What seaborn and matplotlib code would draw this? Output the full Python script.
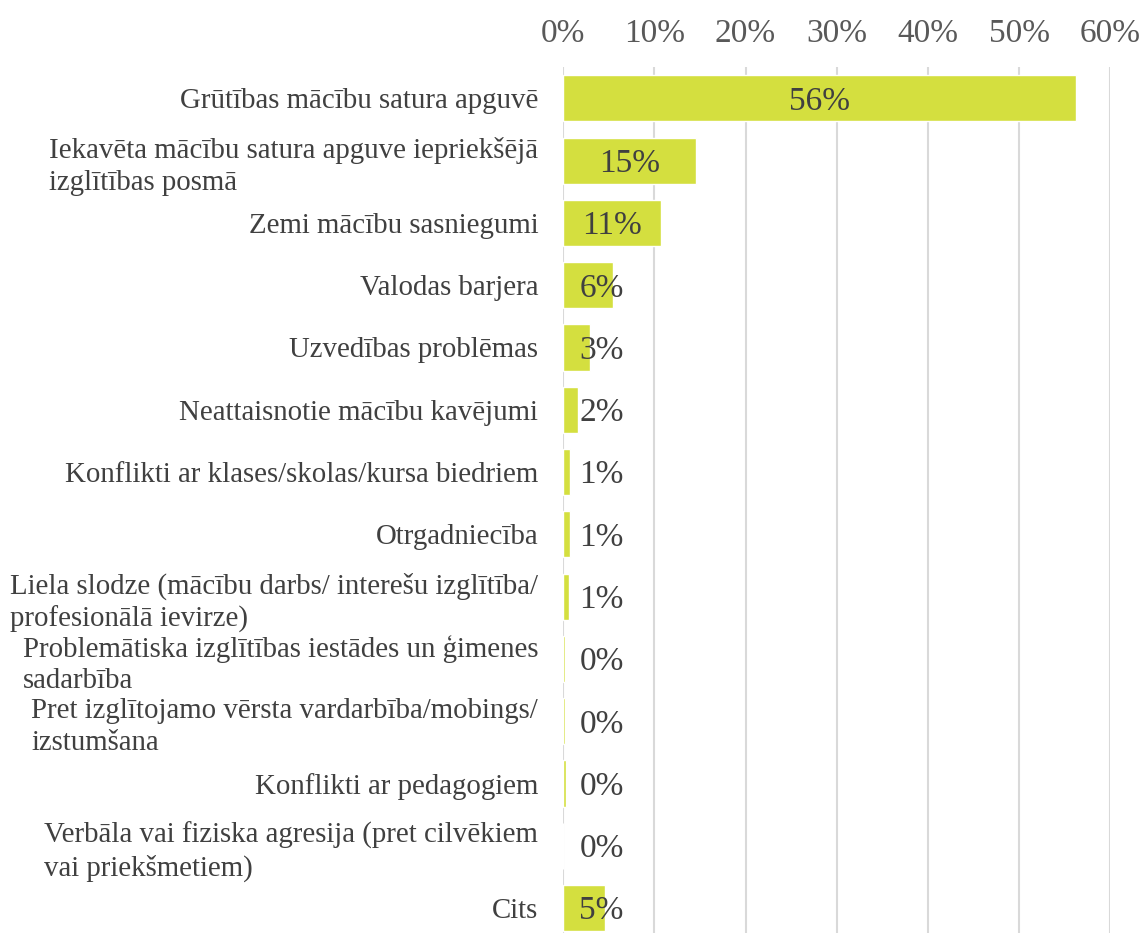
import matplotlib
matplotlib.use("Agg")
import matplotlib.pyplot as plt
import seaborn as sns
import pandas as pd

categories = [
    "Grūtības mācību satura apguvē",
    "Iekavēta mācību satura apguve iepriekšējā\nizglītības posmā",
    "Zemi mācību sasniegumi",
    "Valodas barjera",
    "Uzvedības problēmas",
    "Neattaisnotie mācību kavējumi",
    "Konflikti ar klases/skolas/kursa biedriem",
    "Otrgadniecība",
    "Liela slodze (mācību darbs/ interešu izglītība/\nprofesionālā ievirze)",
    "Problemātiska izglītības iestādes un ģimenes\nsadarbība",
    "Pret izglītojamo vērsta vardarbība/mobings/\nizstumšana",
    "Konflikti ar pedagogiem",
    "Verbāla vai fiziska agresija (pret cilvēkiem\nvai priekšmetiem)",
    "Cits",
]
values = [56.2, 14.6, 10.7, 5.5, 2.9, 1.6, 0.7, 0.7, 0.6, 0.2, 0.2, 0.3, 0.0, 4.6]
tick_values = [0, 10, 20, 30, 40, 50, 60]

df = pd.DataFrame({"cat": categories, "val": values})

sns.set_theme(style="white")
plt.rcParams["font.family"] = ["Liberation Serif", "DejaVu Serif"]

fig = plt.figure(figsize=(11.47, 9.33), dpi=100)
ax = fig.add_axes([0.491, 0.0, 0.477, 0.928])

bar_color = "#d4df3f"
sns.barplot(data=df, x="val", y="cat", orient="h", color=bar_color,
            width=0.74, saturation=1, ax=ax, zorder=3)

ax.set_xlim(0, 60)
ax.set_ylim(13.4, -0.5)
ax.set_xticks(tick_values)
ax.set_xticklabels([f"{t}%" for t in tick_values], fontsize=24, color="#595959")
ax.xaxis.tick_top()
ax.tick_params(axis="x", length=0, pad=13)
ax.tick_params(axis="y", length=0, pad=18, labelsize=20.8, labelcolor="#404040")
for t in ax.get_yticklabels():
    t.set_multialignment("left")
    t.set_linespacing(1.28)
ax.set_xlabel("")
ax.set_ylabel("")
ax.grid(axis="x", color="#d9d9d9", linewidth=1.5, zorder=0)
ax.set_axisbelow(True)
for s in ax.spines.values():
    s.set_visible(False)

for i, v in enumerate(values):
    xpos = max(v / 2, 4.2)
    ax.text(xpos, i + 0.05, f"{v:.0f}%", ha="center", va="center",
            fontsize=24, color="#404040", zorder=5)

fig.savefig("out.png", dpi=100)
